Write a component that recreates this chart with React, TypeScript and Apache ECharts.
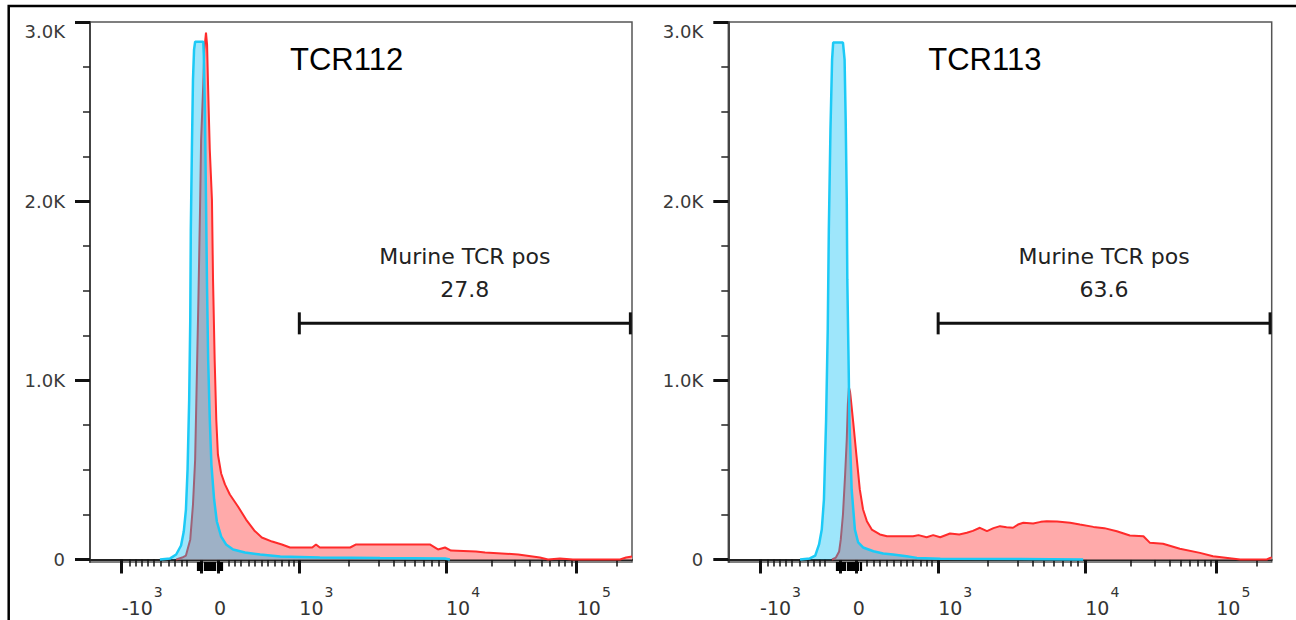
import React, { useEffect, useRef } from "react";
import * as echarts from "echarts";

// ---------- data ----------
const panelTitles = ["TCR112", "TCR113"];
const gateName = "Murine TCR pos";
const gatePercents = ["27.8", "63.6"];
// gate in display channels (0..1000) and count level
const gateStart = 386.2; // at 10^3
const gateEnd = 997;
const gateLevel = 1318;

// histograms: [display channel, count]
const controlTCR112 = [[129,0],[148,6],[159,28],[168,78],[173,156],[177,279],[180,502],[183,893],[185,1339],[186,1841],[188,2288],[190,2678],[192,2846],[194,2890],[209,2890],[210,2818],[212,2511],[214,2009],[216,1507],[218,1116],[221,781],[224,530],[229,335],[234,212],[242,128],[251,84],[264,56],[286,39],[314,28],[351,17],[424,11],[535,8],[655,6],[664,0]];
const sampleTCR112 = [[159,0],[170,11],[177,22],[185,112],[190,307],[194,558],[197,1004],[200,1451],[203,1953],[205,2344],[209,2651],[211,2846],[214,2941],[216,2874],[218,2623],[221,2288],[225,2009],[227,1562],[230,1116],[233,781],[236,586],[242,480],[249,419],[258,363],[273,296],[288,223],[303,162],[317,123],[336,100],[354,84],[369,67],[410,67],[417,84],[424,67],[480,67],[491,84],[627,84],[642,56],[655,67],[666,50],[712,45],[729,39],[790,28],[830,11],[845,0],[867,6],[891,0],[978,0],[989,11],[1000,17]];
const controlTCR113 = [[132,0],[150,6],[160,22],[167,84],[172,167],[176,335],[180,781],[183,1283],[185,1841],[188,2399],[191,2790],[193,2885],[211,2885],[214,2790],[216,2455],[218,2009],[219,1562],[221,1172],[223,764],[227,391],[233,167],[239,95],[248,67],[267,46],[285,33],[303,28],[328,18],[347,9],[390,4],[537,3],[653,0]];
const sampleTCR113 = [[191,0],[198,11],[204,45],[207,112],[211,251],[215,474],[218,670],[220,865],[222,960],[224,937],[225,910],[230,763],[236,576],[242,391],[248,279],[255,214],[264,167],[279,140],[292,130],[340,130],[350,136],[365,124],[377,136],[390,124],[408,145],[425,140],[439,149],[450,160],[463,177],[476,158],[488,175],[500,186],[512,180],[524,177],[533,195],[543,205],[561,201],[575,210],[586,214],[605,212],[629,205],[647,195],[672,182],[692,175],[715,158],[739,134],[764,130],[776,93],[800,88],[831,60],[868,37],[892,18],[942,0],[965,0],[991,0],[997,9],[1000,12]];

// y axis ticks (counts)
const yMajorTicks = [0, 1000, 2000, 3000];
const yMinorTicks = [250, 500, 750, 1250, 1500, 1750, 2250, 2500, 2750];

// x axis ticks in display channels (biexponential scale)
const xLabelValues = [58.5, 228.8, 386.2, 656.8, 898];
const xLabelBase = ["-10", "0", "10", "10", "10"];
const xLabelExp = ["3", "", "3", "4", "5"];
const xMajorTicks = [58.5, 206, 236, 386.2, 656.8, 898];
const xZeroTicks = [199, 203, 207, 211, 215, 219, 223, 227, 231, 235, 239, 243];
const xMinorTicks = [72.5, 84.3, 95.4, 105.7, 116.8, 131, 145.8, 156.8, 169.2, 178.4, 255.2, 267.5, 278.6, 292.1, 304.4, 316.8, 327.7, 340, 353.7, 365.9, 375.1, 476.7, 532.1, 559.8, 581.2, 599.6, 615.1, 630.4, 642.9, 741.1, 784.1, 811.8, 833.4, 848.7, 864.2, 876.4, 888.7, 971.8];

const panels = [
  { title: panelTitles[0], control: controlTCR112, sample: sampleTCR112, pct: gatePercents[0] },
  { title: panelTitles[1], control: controlTCR113, sample: sampleTCR113, pct: gatePercents[1] },
];

const FONT = "DejaVu Sans";
const AXIS_COLOR = "#222";

function labelFor(v: number) {
  let k = 0;
  xLabelValues.forEach((lv, j) => {
    if (Math.abs(lv - v) < Math.abs(xLabelValues[k] - v)) k = j;
  });
  return xLabelExp[k] ? "{b|" + xLabelBase[k] + "}{s|" + xLabelExp[k] + "}" : "{b|" + xLabelBase[k] + "}";
}

function buildOption() {
  const grids: any[] = [];
  const xAxes: any[] = [];
  const yAxes: any[] = [];
  const series: any[] = [];
  const titles: any[] = [];
  const lefts = [90, 728.3];
  const widths = [542, 543.4];

  panels.forEach((p, i) => {
    grids.push({
      left: lefts[i], top: 22, width: widths[i], height: 540,
      show: true, borderColor: "#555", borderWidth: 1.5, backgroundColor: "transparent",
    });
    const xBase = { type: "value", gridIndex: i, min: 0, max: 1000, position: "bottom", splitLine: { show: false } };
    xAxes.push({
      ...xBase,
      axisLine: { show: true, lineStyle: { color: AXIS_COLOR, width: 2 } },
      axisTick: { show: true, customValues: xMajorTicks, length: 14, lineStyle: { color: "#111", width: 3 } },
      axisLabel: {
        show: true, customValues: xLabelValues, align: "left", margin: 22, color: "#333",
        formatter: labelFor,
        rich: {
          b: { fontFamily: FONT, fontSize: 19, color: "#333", padding: [14, 0, 0, 0] },
          s: { fontFamily: FONT, fontSize: 14, color: "#333", padding: [0, 0, 17, 1] },
        },
      },
    });
    xAxes.push({
      ...xBase,
      axisLine: { show: false },
      axisTick: { show: true, customValues: xMinorTicks, length: 7, lineStyle: { color: "#111", width: 1.5 } },
      axisLabel: { show: false },
    });
    xAxes.push({
      ...xBase,
      axisLine: { show: false },
      axisTick: { show: true, customValues: xZeroTicks, length: 9, lineStyle: { color: "#000", width: 2.2 } },
      axisLabel: { show: false },
    });

    const yBase = { type: "value", gridIndex: i, min: -14, max: 3000, position: "left", splitLine: { show: false } };
    yAxes.push({
      ...yBase,
      axisLine: { show: true, lineStyle: { color: "#444", width: 2 } },
      axisTick: { show: true, customValues: yMajorTicks, length: 15, lineStyle: { color: "#111", width: 3 } },
      axisLabel: {
        show: true, customValues: [0, 1000, 2000], margin: 25, color: "#3a3a3a",
        fontFamily: FONT, fontSize: 18,
        formatter: (v: number) => (v === 0 ? "0" : (v / 1000).toFixed(1) + "K"),
      },
    });
    yAxes.push({
      ...yBase,
      axisLine: { show: false },
      axisTick: { show: true, customValues: yMinorTicks, length: 7, lineStyle: { color: "#222", width: 1.5 } },
      axisLabel: {
        show: true, customValues: [3000], margin: 25, color: "#3a3a3a", verticalAlign: "top",
        fontFamily: FONT, fontSize: 18,
        formatter: (v: number) => (v / 1000).toFixed(1) + "K",
      },
    });

    const xi = i * 3;
    const yi = i * 2;
    series.push({
      type: "line", xAxisIndex: xi, yAxisIndex: yi, data: p.sample, symbol: "none", z: 2,
      lineStyle: { color: "#ff2b2b", width: 2 },
      areaStyle: { color: "#ffaaaa", opacity: 1 },
    });
    series.push({
      type: "line", xAxisIndex: xi, yAxisIndex: yi, data: p.control, symbol: "none", z: 3,
      lineStyle: { color: "#1ccaf6", width: 2.5 },
      areaStyle: { color: "rgba(0,190,245,0.38)", opacity: 1 },
    });
    const pct = p.pct;
    series.push({
      type: "custom", xAxisIndex: xi, yAxisIndex: yi, z: 5, clip: false,
      data: [[gateStart, gateEnd, gateLevel]],
      renderItem: (_params: any, api: any) => {
        const a = api.coord([api.value(0), api.value(2)]);
        const b = api.coord([api.value(1), api.value(2)]);
        const cx = (a[0] + b[0]) / 2;
        const stroke = { stroke: "#111", lineWidth: 3 };
        return {
          type: "group",
          children: [
            { type: "line", shape: { x1: a[0], y1: a[1], x2: b[0], y2: b[1] }, style: stroke },
            { type: "line", shape: { x1: a[0], y1: a[1] - 11, x2: a[0], y2: a[1] + 11 }, style: stroke },
            { type: "line", shape: { x1: b[0], y1: b[1] - 11, x2: b[0], y2: b[1] + 11 }, style: stroke },
            { type: "text", style: { x: cx, y: a[1] - 67, text: gateName, fill: "#222", fontFamily: FONT, fontSize: 22, align: "center", verticalAlign: "middle" } },
            { type: "text", style: { x: cx, y: a[1] - 34, text: pct, fill: "#222", fontFamily: FONT, fontSize: 22, align: "center", verticalAlign: "middle" } },
          ],
        };
      },
    });
    titles.push({
      text: p.title, left: lefts[i] + 200, top: 44, padding: 0,
      textStyle: { fontFamily: "Liberation Sans", fontSize: 31, fontWeight: "normal", color: "#000" },
    });
  });

  return {
    animation: false,
    backgroundColor: "#fff",
    title: titles,
    grid: grids,
    xAxis: xAxes,
    yAxis: yAxes,
    series,
    graphic: [
      { type: "rect", shape: { x: 8.7, y: 6, width: 1400, height: 800 }, style: { fill: "none", stroke: "#000", lineWidth: 2.5 }, silent: true, z: 10 },
    ],
  };
}

export default function App() {
  const ref = useRef<HTMLDivElement>(null);
  useEffect(() => {
    if (!ref.current) return;
    const chart = echarts.init(ref.current, undefined, { renderer: "svg" });
    chart.setOption(buildOption() as any);
    return () => chart.dispose();
  }, []);
  return <div ref={ref} style={{ position: "fixed", left: 0, top: 0, width: 1296, height: 620, background: "#fff" }} />;
}
